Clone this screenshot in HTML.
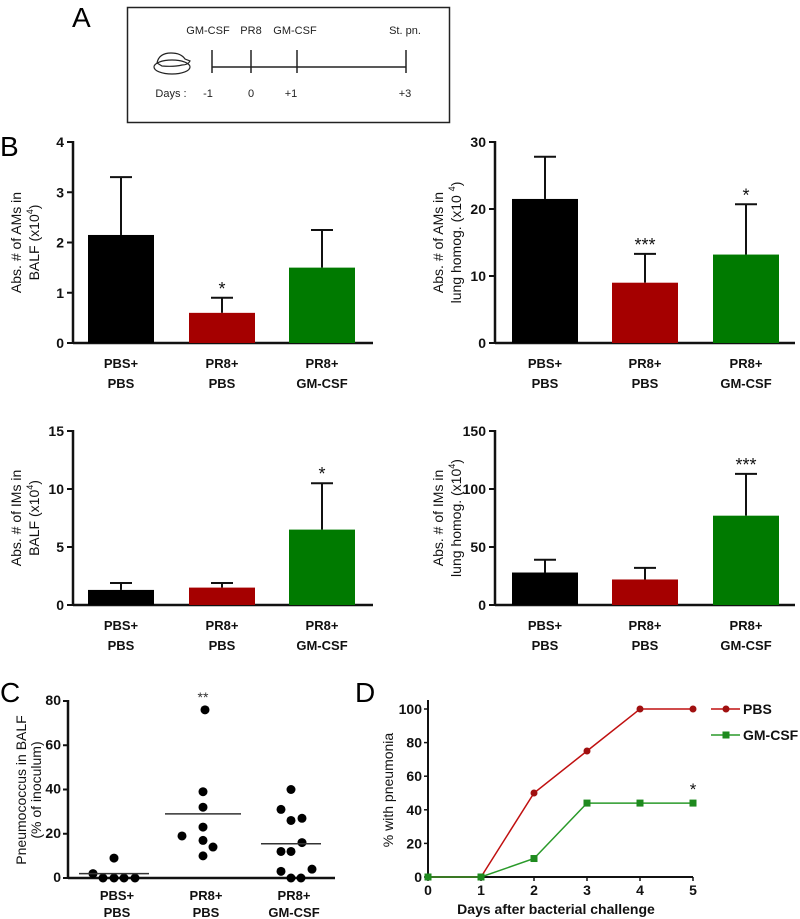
<!DOCTYPE html>
<html><head><meta charset="utf-8"><style>
body{margin:0;background:#fff}
svg{display:block;font-family:"Liberation Sans",Arial,sans-serif}
.tk{font-size:14px;font-weight:bold;fill:#111}
.cat{font-size:13px;font-weight:bold;fill:#111}
.yt{font-size:14px;fill:#111}
</style></head><body>
<svg id="fig" width="800" height="919" viewBox="0 0 800 919">
<g>
<text x="72" y="27" font-size="28">A</text>
<rect x="127.5" y="7.5" width="322" height="115" fill="none" stroke="#222" stroke-width="1.5"/>
<g fill="none" stroke="#222" stroke-width="1.2">
<ellipse cx="172" cy="67" rx="18" ry="7"/><path d="M157 63 q2 -10 14 -10 q10 0 14 6 l5 2 q-2 4 -8 4 q-8 2 -20 1z"/>
</g>
<line x1="212" y1="67" x2="406" y2="67" stroke="#222" stroke-width="1.5"/>
<g stroke="#222" stroke-width="1.5"><line x1="212" y1="50" x2="212" y2="73"/><line x1="251" y1="50" x2="251" y2="73"/><line x1="297" y1="50" x2="297" y2="73"/><line x1="406" y1="50" x2="406" y2="73"/></g>
<g font-size="11" fill="#222" text-anchor="middle">
<text x="208" y="34">GM-CSF</text><text x="251" y="34">PR8</text><text x="295" y="34">GM-CSF</text><text x="405" y="34">St. pn.</text>
<text x="171" y="97">Days :</text><text x="208" y="97">-1</text><text x="251" y="97">0</text><text x="291" y="97">+1</text><text x="405" y="97">+3</text>
</g>
</g>
<text x="0" y="156" font-size="28">B</text>
<text x="0" y="702" font-size="28">C</text>
<text x="355" y="702" font-size="28">D</text>
<g id="charts"></g>
</svg>
<script>
// Panel B data
const groups = ["PBS+|PBS", "PR8+|PBS", "PR8+|GM-CSF"];
const barColors = ["#000000", "#a50000", "#007a00"];
const b1Means = [2.15, 0.6, 1.5];
const b1Errs = [3.3, 0.9, 2.25];
const b1Ticks = [0, 1, 2, 3, 4];
const b1Stars = ["", "*", ""];
const b2Means = [21.5, 9, 13.2];
const b2Errs = [27.8, 13.3, 20.7];
const b2Ticks = [0, 10, 20, 30];
const b2Stars = ["", "***", "*"];
const b3Means = [1.3, 1.5, 6.5];
const b3Errs = [1.9, 1.9, 10.5];
const b3Ticks = [0, 5, 10, 15];
const b3Stars = ["", "", "*"];
const b4Means = [28, 22, 77];
const b4Errs = [39, 32, 113];
const b4Ticks = [0, 50, 100, 150];
const b4Stars = ["", "", "***"];
// Panel C data
const cGroup1 = [2, 0, 0, 0, 9, 0];
const cGroup2 = [76, 39, 32, 23, 19, 17, 14, 10];
const cGroup3 = [40, 31, 26, 27, 16, 12, 12, 3, 4, 0, 0];
const cMeans = [2, 29, 15.5];
const cTicks = [0, 20, 40, 60, 80];
// Panel D data
const dDays = [0, 1, 2, 3, 4, 5];
const dPBS = [0, 0, 50, 75, 100, 100];
const dGM = [0, 0, 11, 44, 44, 44];
const dYTicks = [0, 20, 40, 60, 80, 100];

const NS = "http://www.w3.org/2000/svg";
const root = document.getElementById("charts");
function mk(tag, attrs, parent, txt){
  const e = document.createElementNS(NS, tag);
  for (const k in attrs) e.setAttribute(k, attrs[k]);
  if (txt !== undefined) e.textContent = txt;
  (parent || root).appendChild(e);
  return e;
}
function barChart(name, ax, x1, y0, yTop, max, ticks, means, errs, stars, title1, title2, sup, barX){
  const g = mk("g", {});
  
  
  const ys = v => y0 - (v / max) * (y0 - yTop);
  mk("line", {x1: ax, y1: yTop - 1, x2: ax, y2: y0 + 1, stroke: "#111", "stroke-width": 2.5}, g);
  mk("line", {x1: ax, y1: y0, x2: x1, y2: y0, stroke: "#111", "stroke-width": 2.5}, g);
  ticks.forEach(t => {
    mk("line", {x1: ax - 6, y1: ys(t), x2: ax, y2: ys(t), stroke: "#111", "stroke-width": 2}, g);
    const tx = mk("text", {x: ax - 9, y: ys(t) + 5, class: "tk", "text-anchor": "end"}, g, t);
    
    
  });
  means.forEach((m, i) => {
    const bx = barX[i], bw = 66, cx = bx + bw / 2;
    mk("line", {x1: cx, y1: ys(errs[i]), x2: cx, y2: ys(m), stroke: "#111", "stroke-width": 2}, g);
    mk("line", {x1: cx - 11, y1: ys(errs[i]), x2: cx + 11, y2: ys(errs[i]), stroke: "#111", "stroke-width": 2}, g);
    const r = mk("rect", {x: bx, y: ys(m), width: bw, height: y0 - ys(m), fill: barColors[i]}, g);
    
    
    if (stars[i]) mk("text", {x: cx, y: ys(errs[i]) - 3, "text-anchor": "middle", "font-size": 18, fill: "#111"}, g, stars[i]);
    const parts = groups[i].split("|");
    mk("text", {x: cx, y: y0 + 25, class: "cat", "text-anchor": "middle"}, g, parts[0]);
    mk("text", {x: cx, y: y0 + 45, class: "cat", "text-anchor": "middle"}, g, parts[1]);
  });
  const my = (y0 + yTop) / 2;
  const t = mk("text", {class: "yt", "text-anchor": "middle", transform: `translate(${ax - 52},${my}) rotate(-90)`}, g, title1);
  
  
  const t2 = mk("text", {class: "yt", "text-anchor": "middle", transform: `translate(${ax - 34},${my}) rotate(-90)`}, g, title2);
  mk("tspan", {"font-size": 9, dy: -6}, t2, sup);
  mk("tspan", {dy: 6}, t2, ")");
}
barChart("chart-ams-balf", 73, 373, 343, 142, 4, b1Ticks, b1Means, b1Errs, b1Stars, "Abs. # of AMs in", "BALF (x10", "4", [88, 189, 289]);
barChart("chart-ams-lung", 495, 795, 343, 142, 30, b2Ticks, b2Means, b2Errs, b2Stars, "Abs. # of AMs in", "lung homog. (x10 ", "4", [512, 612, 713]);
barChart("chart-ims-balf", 73, 373, 605, 431, 15, b3Ticks, b3Means, b3Errs, b3Stars, "Abs. # of IMs in", "BALF (x10", "4", [88, 189, 289]);
barChart("chart-ims-lung", 495, 795, 605, 431, 150, b4Ticks, b4Means, b4Errs, b4Stars, "Abs. # of IMs in", "lung homog. (x10", "4", [512, 612, 713]);

// Panel C
(function(){
  const g = mk("g", {});
  
  
  const ax = 68, y0 = 878, yTop = 701, x1 = 335;
  const ys = v => y0 - (v / 80) * (y0 - yTop);
  mk("line", {x1: ax, y1: yTop - 1, x2: ax, y2: y0, stroke: "#111", "stroke-width": 2.5}, g);
  mk("line", {x1: ax, y1: y0, x2: x1, y2: y0, stroke: "#111", "stroke-width": 2.5}, g);
  cTicks.forEach(t => {
    mk("line", {x1: ax - 5, y1: ys(t), x2: ax, y2: ys(t), stroke: "#111", "stroke-width": 2}, g);
    mk("text", {x: ax - 7, y: ys(t) + 4, class: "tk", "font-size": 13, "text-anchor": "end"}, g, t);
  });
  const sets = [cGroup1, cGroup2, cGroup3];
  const centers = [114, 203, 291];
  const offs = [
    [-21, -11, 0, 10, 0, 21],
    [2, 0, 0, 0, -21, 0, 10, 0],
    [0, -10, 0, 11, 11, -10, 0, -10, 21, 0, 10]
  ];
  const halfW = [35, 38, 30];
  sets.forEach((s, gi) => {
    s.forEach((v, j) => {
      const c = mk("circle", {cx: centers[gi] + offs[gi][j], cy: ys(v), r: 4.5, fill: "#000"}, g);
      
      
    });
    mk("line", {x1: centers[gi] - halfW[gi], y1: ys(cMeans[gi]), x2: centers[gi] + halfW[gi], y2: ys(cMeans[gi]), stroke: "#333", "stroke-width": 1.5}, g);
    const parts = groups[gi].split("|");
    mk("text", {x: centers[gi] + 3, y: 900, class: "cat", "font-size": 12, "text-anchor": "middle"}, g, parts[0]);
    mk("text", {x: centers[gi] + 3, y: 917, class: "cat", "font-size": 12, "text-anchor": "middle"}, g, parts[1]);
  });
  mk("text", {x: 203, y: 702, "text-anchor": "middle", "font-size": 14, fill: "#333"}, g, "**");
  const t = mk("text", {class: "yt", "font-size": 13, "text-anchor": "middle", transform: "translate(26,790) rotate(-90)"}, g, "Pneumococcus in BALF");
  
  
  mk("text", {class: "yt", "font-size": 13, "text-anchor": "middle", transform: "translate(41,790) rotate(-90)"}, g, "(% of inoculum)");
})();

// Panel D
(function(){
  const g = mk("g", {});
  
  
  const ax = 428, y0 = 877, yTop = 709, xr = 693;
  const xs = d => ax + (d / 5) * (xr - ax);
  const ys = v => y0 - (v / 100) * (y0 - yTop);
  mk("line", {x1: ax, y1: 700, x2: ax, y2: y0, stroke: "#111", "stroke-width": 2}, g);
  mk("line", {x1: ax, y1: y0, x2: xr, y2: y0, stroke: "#111", "stroke-width": 2}, g);
  dYTicks.forEach(t => {
    mk("line", {x1: ax - 4, y1: ys(t), x2: ax, y2: ys(t), stroke: "#111", "stroke-width": 1.5}, g);
    mk("text", {x: ax - 6, y: ys(t) + 5, class: "tk", "font-size": 13, "text-anchor": "end"}, g, t);
  });
  dDays.forEach(d => {
    mk("line", {x1: xs(d), y1: y0, x2: xs(d), y2: y0 + 4, stroke: "#111", "stroke-width": 1.5}, g);
    mk("text", {x: xs(d), y: y0 + 18, class: "tk", "font-size": 13, "text-anchor": "middle"}, g, d);
  });
  mk("text", {x: 556, y: 914, class: "tk", "font-size": 13, "text-anchor": "middle"}, g, "Days after bacterial challenge");
  const t = mk("text", {class: "yt", "font-size": 13, "text-anchor": "middle", transform: "translate(393,790) rotate(-90)"}, g, "% with pneumonia");
  
  
  const pl = mk("polyline", {points: dDays.map((d, i) => xs(d) + "," + ys(dPBS[i])).join(" "), fill: "none", stroke: "#c01010", "stroke-width": 1.5}, g);
  
  
  dDays.forEach((d, i) => mk("circle", {cx: xs(d), cy: ys(dPBS[i]), r: 3.5, fill: "#a01010"}, g));
  const gl = mk("polyline", {points: dDays.map((d, i) => xs(d) + "," + ys(dGM[i])).join(" "), fill: "none", stroke: "#2a9a2a", "stroke-width": 1.5}, g);
  
  
  dDays.forEach((d, i) => mk("rect", {x: xs(d) - 3.5, y: ys(dGM[i]) - 3.5, width: 7, height: 7, fill: "#1e8a1e"}, g));
  mk("text", {x: xs(5), y: ys(dGM[5]) - 8, "text-anchor": "middle", "font-size": 17, fill: "#111"}, g, "*");
  const lg = mk("g", {}, g);
  
  
  mk("line", {x1: 711, y1: 709, x2: 740, y2: 709, stroke: "#c01010", "stroke-width": 1.5}, lg);
  mk("circle", {cx: 726, cy: 709, r: 3.5, fill: "#a01010"}, lg);
  mk("text", {x: 743, y: 714, class: "tk", "font-size": 14}, lg, "PBS");
  mk("line", {x1: 711, y1: 735, x2: 740, y2: 735, stroke: "#2a9a2a", "stroke-width": 1.5}, lg);
  mk("rect", {x: 722.5, y: 731.5, width: 7, height: 7, fill: "#1e8a1e"}, lg);
  mk("text", {x: 743, y: 740, class: "tk", "font-size": 14}, lg, "GM-CSF");
})();
</script>
</body></html>
